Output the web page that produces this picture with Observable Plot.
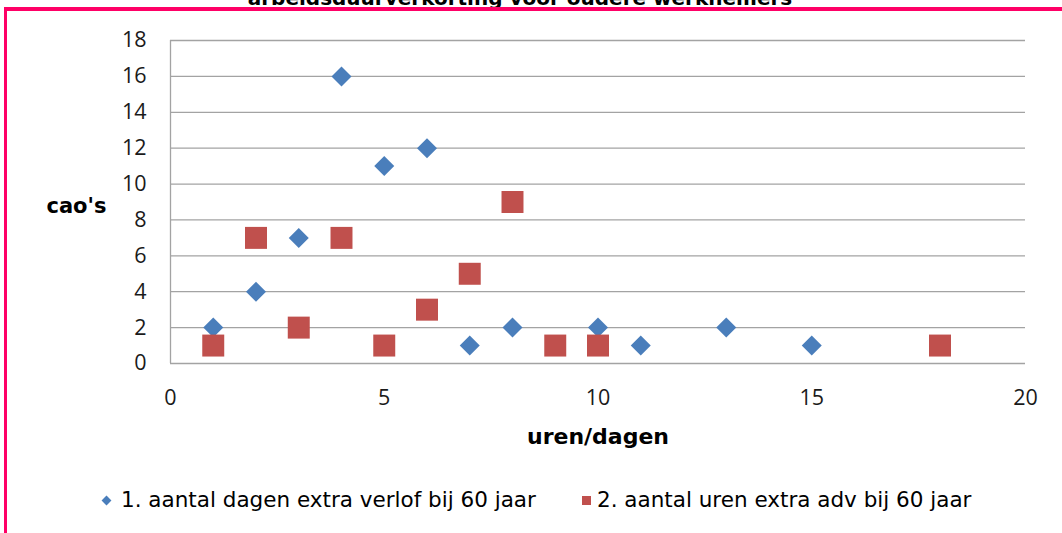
<!DOCTYPE html>
<html><head><meta charset="utf-8">
<script src="https://cdn.jsdelivr.net/npm/d3@7"></script>
<script src="https://cdn.jsdelivr.net/npm/@observablehq/plot@0.6"></script>
<style>
body{margin:0;background:#fff;}
#wrap{position:relative;width:1062px;height:533px;overflow:hidden;background:#fff;}
#title{position:absolute;left:0;top:-12px;width:1040px;text-align:center;font:bold 20px/20px "DejaVu Sans",sans-serif;color:#000;white-space:nowrap;}
.bl{position:absolute;left:4px;top:7px;width:3px;height:540px;background:#FF0066;}
.bt{position:absolute;left:4px;top:7px;width:1070px;height:4px;background:#FF0066;}
#chart{position:absolute;left:0;top:0;}
.item{position:absolute;top:487px;height:26px;display:flex;align-items:center;font:21.5px/26px "DejaVu Sans",sans-serif;color:#000;white-space:nowrap;}
.dia{width:7px;height:7px;transform:rotate(45deg);margin:0 11px 0 2px;}
.sq{width:9px;height:9px;margin:0 6px 0 0;}
</style></head><body>
<div id="wrap">
  <div id="title">arbeidsduurverkorting voor oudere werknemers</div>
  <div class="bl"></div><div class="bt"></div>
  <div id="chart"></div>
</div>
<script>
const seriesNames = ["1. aantal dagen extra verlof bij 60 jaar", "2. aantal uren extra adv bij 60 jaar"];
const seriesColors = ["#4A7EBB", "#C0504D"];
const daysX = [1, 2, 3, 4, 5, 6, 7, 8, 10, 11, 13, 15];
const daysY = [2, 4, 7, 16, 11, 12, 1, 2, 2, 1, 2, 1];
const hoursX = [1, 2, 3, 4, 5, 6, 7, 8, 9, 10, 18];
const hoursY = [1, 7, 2, 7, 1, 3, 5, 9, 1, 1, 1];
const xTicks = [0, 5, 10, 15, 20];
const yTicks = [0, 2, 4, 6, 8, 10, 12, 14, 16, 18];
const xTitle = "uren/dagen";
const yTitle = "cao's";

const days = daysX.map((x, i) => ({x, y: daysY[i]}));
const hours = hoursX.map((x, i) => ({x, y: hoursY[i]}));

const chart = Plot.plot({
  width: 1062, height: 460,
  marginLeft: 170, marginRight: 37, marginTop: 40, marginBottom: 97,
  x: {domain: [0, 20]},
  y: {domain: [0, 18]},
  style: {fontFamily: "'Open Sans', sans-serif", background: "transparent", color: "#1a1a1a", overflow: "visible"},
  marks: [
    Plot.gridY(yTicks, {stroke: "#A3A3A3", strokeOpacity: 1, strokeWidth: 1.3}),
    Plot.ruleX([0], {stroke: "#A3A3A3", strokeWidth: 1.3}),
    Plot.axisY(yTicks, {tickSize: 0, tickPadding: 24, fontSize: 21.5, label: null}),
    Plot.axisX(xTicks, {tickSize: 0, tickPadding: 26, fontSize: 21.5, label: null}),
    Plot.dot(days, {x: "x", y: "y", symbol: "diamond2", r: 9, fill: seriesColors[0], stroke: null}),
    Plot.dot(hours, {x: "x", y: "y", symbol: "square", r: 12.4, fill: seriesColors[1], stroke: null}),
    Plot.text([yTitle], {frameAnchor: "left", lineAnchor: "middle", textAnchor: "start", dx: -124, dy: 4.5, fontSize: 21, fontWeight: "bold", fontFamily: "DejaVu Sans", fill: "#000"}),
    Plot.text([xTitle], {frameAnchor: "bottom", lineAnchor: "middle", textAnchor: "middle", dy: 73, fontSize: 22, fontWeight: "bold", fontFamily: "DejaVu Sans", fill: "#000"})
  ]
});
document.getElementById("chart").appendChild(chart);

const wrap = document.getElementById("wrap");
const lefts = [101, 582];
seriesNames.forEach((name, i) => {
  const item = document.createElement("div");
  item.className = "item";
  item.style.left = lefts[i] + "px";
  const m = document.createElement("div");
  m.className = i === 0 ? "dia" : "sq";
  m.style.background = seriesColors[i];
  item.appendChild(m);
  item.appendChild(document.createTextNode(name));
  wrap.appendChild(item);
});
</script>
</body></html>
